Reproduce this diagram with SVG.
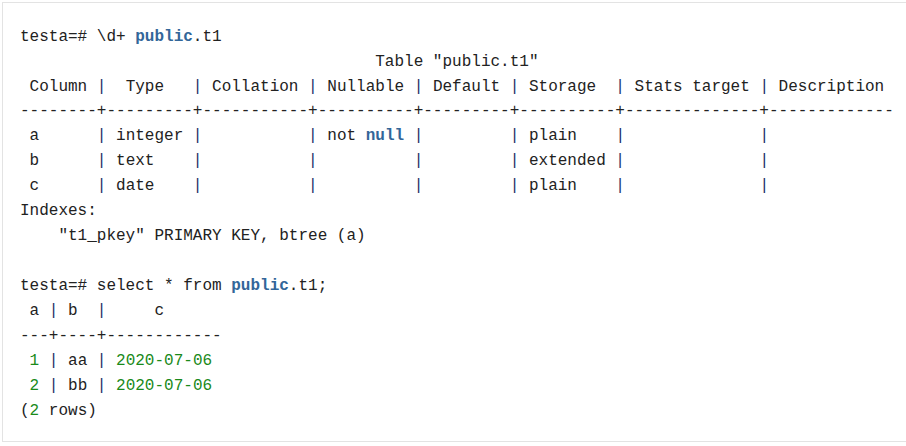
<svg xmlns="http://www.w3.org/2000/svg" width="906" height="446" viewBox="0 0 906 446">
<style>
text{font-family:"Liberation Mono","DejaVu Sans Mono",monospace;font-size:16px;fill:#222;white-space:pre}
.k{fill:#336699;font-weight:bold}
.p{fill:#1b2f66}
.n{fill:#1a8a1a}
</style>
<rect x="0" y="0" width="906" height="446" fill="#fff"/>
<rect x="2.5" y="2.5" width="910" height="439" fill="#fff" stroke="#e3e3e3"/>
<g id="code" xml:space="preserve">
<text x="20" y="41">testa=# \d+ <tspan class="k">public</tspan>.t1</text>
<text x="20" y="66">                                     Table "public.t1"</text>
<text x="20" y="91"> Column <tspan class="p">|</tspan>  Type   <tspan class="p">|</tspan> Collation <tspan class="p">|</tspan> Nullable <tspan class="p">|</tspan> Default <tspan class="p">|</tspan> Storage  <tspan class="p">|</tspan> Stats target <tspan class="p">|</tspan> Description</text>
<text x="20" y="115">--------+---------+-----------+----------+---------+----------+--------------+-------------</text>
<text x="20" y="140"> a      <tspan class="p">|</tspan> integer <tspan class="p">|</tspan>           <tspan class="p">|</tspan> not <tspan class="k">null</tspan> <tspan class="p">|</tspan>         <tspan class="p">|</tspan> plain    <tspan class="p">|</tspan>              <tspan class="p">|</tspan></text>
<text x="20" y="165"> b      <tspan class="p">|</tspan> text    <tspan class="p">|</tspan>           <tspan class="p">|</tspan>          <tspan class="p">|</tspan>         <tspan class="p">|</tspan> extended <tspan class="p">|</tspan>              <tspan class="p">|</tspan></text>
<text x="20" y="190"> c      <tspan class="p">|</tspan> date    <tspan class="p">|</tspan>           <tspan class="p">|</tspan>          <tspan class="p">|</tspan>         <tspan class="p">|</tspan> plain    <tspan class="p">|</tspan>              <tspan class="p">|</tspan></text>
<text x="20" y="215">Indexes:</text>
<text x="20" y="240">    "t1_pkey" PRIMARY KEY, btree (a)</text>
<text x="20" y="290">testa=# select * from <tspan class="k">public</tspan>.t1;</text>
<text x="20" y="315"> a <tspan class="p">|</tspan> b  <tspan class="p">|</tspan>     c</text>
<text x="20" y="340">---+----+------------</text>
<text x="20" y="365"> <tspan class="n">1</tspan> <tspan class="p">|</tspan> aa <tspan class="p">|</tspan> <tspan class="n">2020-07-06</tspan></text>
<text x="20" y="390"> <tspan class="n">2</tspan> <tspan class="p">|</tspan> bb <tspan class="p">|</tspan> <tspan class="n">2020-07-06</tspan></text>
<text x="20" y="415">(<tspan class="n">2</tspan> rows)</text>
</g>
</svg>
